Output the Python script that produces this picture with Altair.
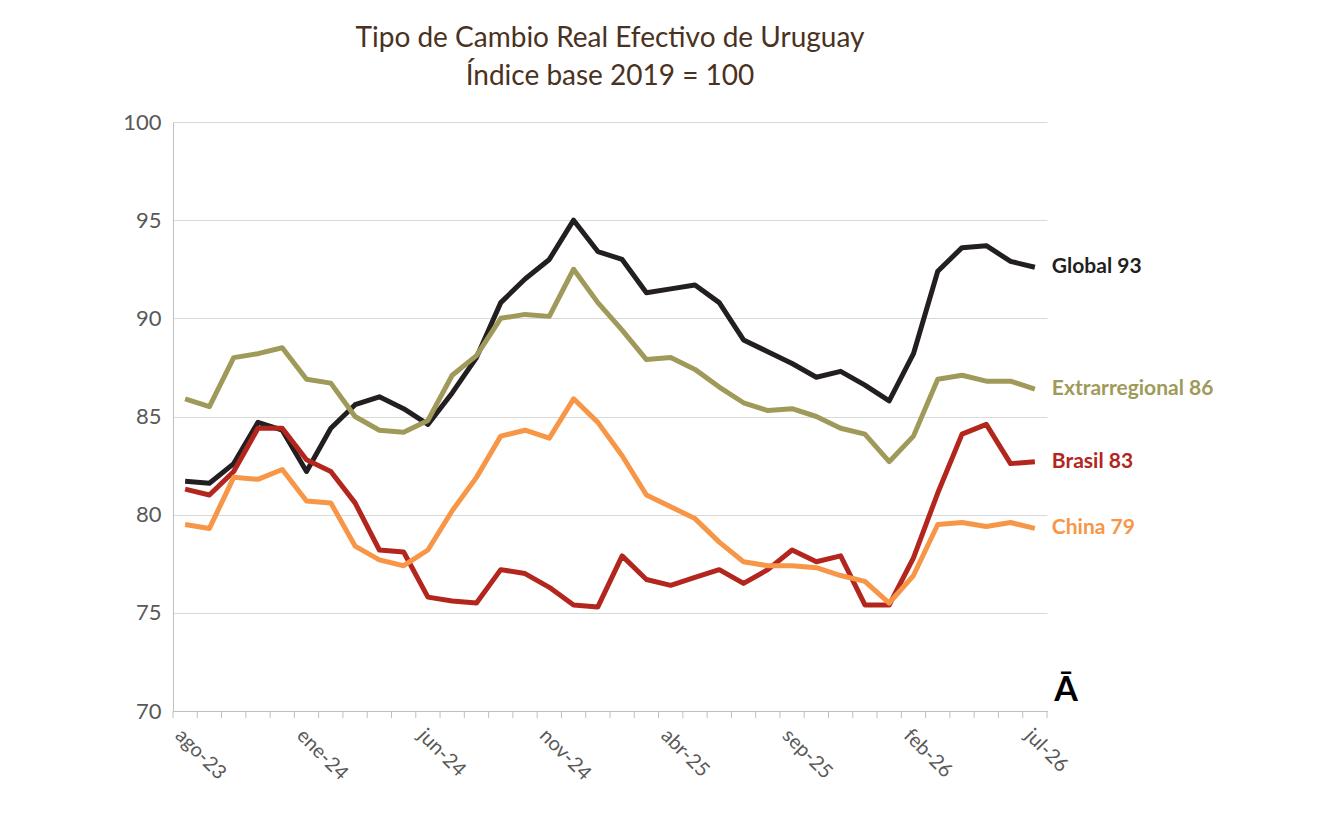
import pandas as pd
import altair as alt

months = ['ago-23', 'sep-23', 'oct-23', 'nov-23', 'dic-23', 'ene-24', 'feb-24', 'mar-24', 'abr-24', 'may-24',
          'jun-24', 'jul-24', 'ago-24', 'sep-24', 'oct-24', 'nov-24', 'dic-24', 'ene-25', 'feb-25', 'mar-25',
          'abr-25', 'may-25', 'jun-25', 'jul-25', 'ago-25', 'sep-25', 'oct-25', 'nov-25', 'dic-25', 'ene-26',
          'feb-26', 'mar-26', 'abr-26', 'may-26', 'jun-26', 'jul-26']

global_ = [81.7, 81.6, 82.6, 84.7, 84.3, 82.2, 84.4, 85.6, 86.0, 85.4, 84.6, 86.2, 88.0, 90.8, 92.0, 93.0, 95.0, 93.4,
           93.0, 91.3, 91.5, 91.7, 90.8, 88.9, 88.3, 87.7, 87.0, 87.3, 86.6, 85.8, 88.2, 92.4, 93.6, 93.7, 92.9, 92.6]
extra = [85.9, 85.5, 88.0, 88.2, 88.5, 86.9, 86.7, 85.0, 84.3, 84.2, 84.8, 87.1, 88.1, 90.0, 90.2, 90.1, 92.5, 90.8,
         89.4, 87.9, 88.0, 87.4, 86.5, 85.7, 85.3, 85.4, 85.0, 84.4, 84.1, 82.7, 84.0, 86.9, 87.1, 86.8, 86.8, 86.4]
brasil = [81.3, 81.0, 82.2, 84.4, 84.4, 82.8, 82.2, 80.6, 78.2, 78.1, 75.8, 75.6, 75.5, 77.2, 77.0, 76.3, 75.4, 75.3,
          77.9, 76.7, 76.4, 76.8, 77.2, 76.5, 77.2, 78.2, 77.6, 77.9, 75.4, 75.4, 77.8, 81.1, 84.1, 84.6, 82.6, 82.7]
china = [79.5, 79.3, 81.9, 81.8, 82.3, 80.7, 80.6, 78.4, 77.7, 77.4, 78.2, 80.2, 81.9, 84.0, 84.3, 83.9, 85.9, 84.7,
         83.0, 81.0, 80.4, 79.8, 78.6, 77.6, 77.4, 77.4, 77.3, 76.9, 76.6, 75.5, 76.9, 79.5, 79.6, 79.4, 79.6, 79.3]

series = ['Global', 'Extrarregional', 'Brasil', 'China']
colors = ['#231f20', '#a09a5a', '#b3261e', '#f79646']
values = [global_, extra, brasil, china]

rows = []
for name, vals in zip(series, values):
    for i, v in enumerate(vals):
        rows.append({'idx': i, 'mes': months[i], 'serie': name, 'valor': v})
df = pd.DataFrame(rows)
last = df[df['idx'] == len(months) - 1].copy()
last['label'] = last['serie'] + '  ' + last['valor'].round().astype(int).astype(str)

label_expr = '[' + ','.join("'%s'" % m for m in months) + '][datum.value]'
FONT = 'Lato'

x = alt.X('idx:Q', scale=alt.Scale(domain=[-0.5, 35.5], nice=False),
          axis=alt.Axis(values=list(range(0, 36, 5)), labelExpr=label_expr, labelAngle=45, labelAlign='left',
                        labelBaseline='top', labelFontSize=20, labelColor='#595959', grid=False,
                        domainColor='#bfbfbf', ticks=False, labelPadding=14,
                        title=None))
y = alt.Y('valor:Q', scale=alt.Scale(domain=[70, 100], nice=False),
          axis=alt.Axis(values=list(range(70, 101, 5)), labelFontSize=22, labelColor='#595959',
                        gridColor='#d9d9d9', domainColor='#bfbfbf', ticks=False, labelPadding=12,
                        title=None))
color = alt.Color('serie:N', scale=alt.Scale(domain=series, range=colors), legend=None)

lines = alt.Chart(df).mark_line(strokeWidth=5, strokeJoin='round').encode(
    x=x, y=y, color=color, detail='serie:N')

minor = alt.Chart(pd.DataFrame({'idx': [i - 0.5 for i in range(37)]})).mark_rule(
    color='#bfbfbf').encode(x='idx:Q', y=alt.value(589), y2=alt.value(596))

labels = alt.Chart(last).mark_text(align='left', dx=17, fontSize=21, fontWeight='bold', font=FONT).encode(
    x='idx:Q', y='valor:Q', text='label:N', color=color)

logo = alt.Chart(pd.DataFrame({'t': ['Ā']})).mark_text(
    fontSize=34, fontWeight='bold', font=FONT, color='#000000', align='center', baseline='bottom').encode(
    x=alt.value(893), y=alt.value(586), text='t:N')

chart = alt.layer(lines, minor, labels, logo).properties(
    width=874, height=589,
    padding={'left': 165, 'top': 114, 'right': 255, 'bottom': 95},
    autosize=alt.AutoSizeParams(type='none'),
    title=alt.TitleParams(['Tipo de Cambio Real Efectivo de Uruguay', 'Índice base 2019 = 100'],
                          fontSize=28, font=FONT, fontWeight='normal', color='#4a3222', offset=20,
                          lineHeight=38, anchor='middle')
).configure(font=FONT).configure_view(stroke=None)

chart.save('out.html', embed_options={'renderer': 'svg', 'actions': False})
